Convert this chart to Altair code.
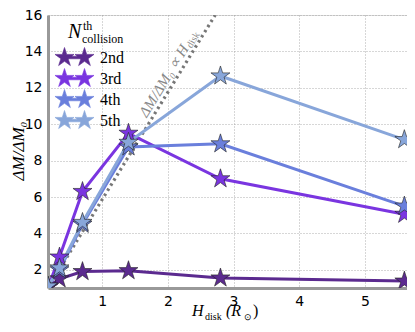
import altair as alt
import pandas as pd

H = [0.175, 0.35, 0.7, 1.4, 2.8, 5.6]
series = ["2nd", "3rd", "4th", "5th"]
dm_2nd = [1.05, 1.5, 1.9, 1.95, 1.55, 1.38]
dm_3rd = [1.05, 2.7, 6.3, 9.5, 7.0, 5.05]
dm_4th = [1.1, 2.0, 4.5, 8.75, 8.92, 5.5]
dm_5th = [1.1, 2.1, 4.6, 9.0, 12.65, 9.15]
colors = ["#5b2a8f", "#7a35e0", "#6a7fdc", "#88a6da"]
ref_H = [0.175, 2.72]
ref_dm = [1.0, 16.0]
x_ticks = [1, 2, 3, 4, 5]
y_ticks = [2, 4, 6, 8, 10, 12, 14, 16]

rows = []
for name, vals in zip(series, [dm_2nd, dm_3rd, dm_4th, dm_5th]):
    for h, v in zip(H, vals):
        rows.append({"H": h, "dm": v, "n": name})
df = pd.DataFrame(rows)
ref = pd.DataFrame({"H": ref_H, "dm": ref_dm})

STAR = ("M0,-1L0.2245,-0.309L0.951,-0.309L0.363,0.118L0.588,0.809L0,0.382"
        "L-0.588,0.809L-0.363,0.118L-0.951,-0.309L-0.2245,-0.309Z")
DOUBLE = ("M-1,-0.13L1,-0.13L1,0.13L-1,0.13Z"
          "M-1,-1L-0.7755,-0.309L-0.049,-0.309L-0.637,0.118L-0.412,0.809L-1,0.382"
          "L-1.588,0.809L-1.363,0.118L-1.951,-0.309L-1.2245,-0.309Z"
          "M1,-1L1.2245,-0.309L1.951,-0.309L1.363,0.118L1.588,0.809L1,0.382"
          "L0.412,0.809L0.637,0.118L0.049,-0.309L0.7755,-0.309Z")

SERIF = "Liberation Serif"

xs = alt.Scale(domain=[0.175, 5.64], nice=False, zero=False)
ys = alt.Scale(domain=[1, 16], nice=False, zero=False)
X = alt.X("H:Q", scale=xs, axis=alt.Axis(values=x_ticks, title=None))
Y = alt.Y("dm:Q", scale=ys, axis=alt.Axis(values=y_ticks, title=None))

color = alt.Color("n:N", scale=alt.Scale(domain=series, range=colors),
                  legend=alt.Legend(title=None, orient="none", legendX=16, legendY=32,
                                    symbolType=DOUBLE, symbolSize=400,
                                    symbolStrokeColor="#222", symbolStrokeWidth=0.6,
                                    symbolOpacity=1, labelFont=SERIF, labelFontSize=16,
                                    labelColor="black", labelOffset=15, rowPadding=0,
                                    padding=0))

base = alt.Chart(df)

refline = alt.Chart(ref).mark_line(color="#777", strokeDash=[2.5, 3.5], strokeWidth=3.2,
                                   clip=True).encode(x=X, y=Y)

lines = base.mark_line(strokeWidth=3, clip=True).encode(x=X, y=Y, color=color, detail="n:N")

points = base.mark_point(shape=STAR, size=400, filled=True, opacity=1,
                         stroke="#222", strokeWidth=0.6, clip=True).encode(
    x=X, y=Y,
    fill=alt.Fill("n:N", scale=alt.Scale(domain=series, range=colors), legend=None),
    color=color)

ann = pd.DataFrame({"H": [2.26], "dm": [14.3], "t": ["ΔM/ΔM₀ ∝ H"], "s": ["disk"]})
ann_main = alt.Chart(ann).mark_text(font=SERIF, fontStyle="italic", fontSize=15,
                                    color="#888", angle=301.4, align="right",
                                    baseline="middle").encode(x=X, y=Y, text="t:N")
ann_sub = alt.Chart(ann).mark_text(font=SERIF, fontSize=10, color="#888", angle=301.4,
                                   align="left", baseline="middle", dx=1, dy=4).encode(
    x=X, y=Y, text="s:N")

def label(txt, x, y, size, style="normal", align="left", angle=0):
    return alt.Chart(pd.DataFrame({"t": [txt]})).mark_text(
        font=SERIF, fontSize=size, fontStyle=style, color="black", align=align,
        angle=angle, baseline="alphabetic").encode(x=alt.value(x), y=alt.value(y), text="t:N")

titles = [
    label("N", 20, 23, 20, "italic"),
    label("th", 35, 15, 12),
    label("collision", 34, 28, 12),
    label("H", 144, 301, 16, "italic"),
    label("disk", 157, 305, 10),
    label("(R", 178, 301, 16, "italic"),
    label("⊙", 196, 305, 9),
    label(")", 205, 301, 16),
    label("ΔM/ΔM₀", -24, 136, 17, "italic", "center", 270),
]

chart = alt.layer(refline, lines, points, ann_main, ann_sub, *titles).properties(
    width=359, height=273,
    autosize=alt.AutoSizeParams(type="none"),
    padding={"left": 40, "top": 7, "right": 0, "bottom": 36},
).configure_view(stroke="#888", strokeWidth=1).configure(background="white").configure_axis(
    format="d", labelFont="DejaVu Sans", labelFontSize=14, labelColor="black",
    ticks=False, labelPadding=6, labelOverlap=False, labelFlush=False,
    grid=True, gridDash=[1, 2], gridColor="#999",
    gridWidth=0.8, domainColor="#999", domainWidth=3)

chart.save("out.html", embed_options={"renderer": "svg", "actions": False})
